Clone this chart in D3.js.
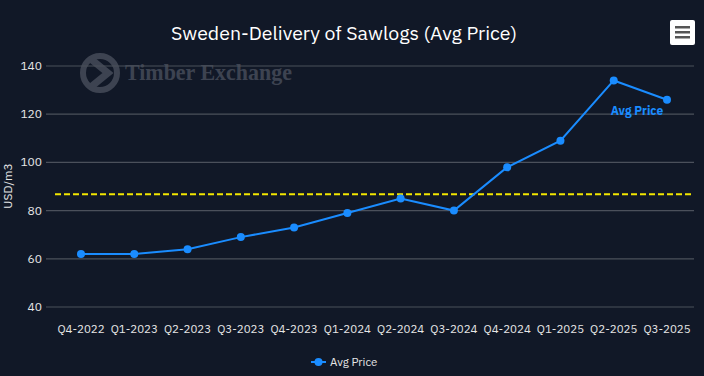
<!DOCTYPE html>
<html><head><meta charset="utf-8">
<script src="https://cdn.jsdelivr.net/npm/d3@7/dist/d3.min.js"></script>
<style>
html,body{margin:0;padding:0;background:#111827;}
svg{display:block;font-family:"IBM Plex Sans","Noto Sans",Roboto,sans-serif;}
</style></head>
<body><svg id="c" width="704" height="376"></svg>
<script>
const categories = ["Q4-2022","Q1-2023","Q2-2023","Q3-2023","Q4-2023","Q1-2024","Q2-2024","Q3-2024","Q4-2024","Q1-2025","Q2-2025","Q3-2025"];
const avgPrice = [62,62,64,69,73,79,85,80,98,109,134,126];
const averageLine = 86.75;
const yTicks = [40,60,80,100,120,140];
const seriesName = "Avg Price";
const title = "Sweden-Delivery of Sawlogs (Avg Price)";
const yTitle = "USD/m3";

const svg = d3.select("#c");
const W = 704, H = 376;
svg.append("rect").attr("width",W).attr("height",H).attr("fill","#111827");

const plotL = 46, plotR = 694;
const x = d3.scalePoint().domain(categories).range([81, 667]);
const y = d3.scaleLinear().domain([40,140]).range([307, 66]);

// watermark
const wm = svg.append("g").attr("opacity",0.24);
wm.append("circle").attr("cx",100).attr("cy",73).attr("r",17).attr("fill","none").attr("stroke","#c8ccd6").attr("stroke-width",6);
wm.append("path").attr("d","M92,60 L108,73 L92,86").attr("fill","none").attr("stroke","#c8ccd6").attr("stroke-width",7).attr("stroke-linejoin","miter");
wm.append("text").attr("x",125).attr("y",80).attr("font-family","'Liberation Serif','Times New Roman',serif").attr("font-weight","bold").attr("font-size",23).attr("fill","#c8ccd6")
  .attr("textLength",167).attr("lengthAdjust","spacingAndGlyphs").text("Timber Exchange");

// grid
svg.append("g").selectAll("line").data(yTicks).join("line")
  .attr("x1",plotL).attr("x2",plotR).attr("y1",d=>y(d)).attr("y2",d=>y(d))
  .attr("stroke","#4b505b").attr("stroke-width",1.2);

// y axis labels
svg.append("g").selectAll("text").data(yTicks).join("text")
  .attr("x",42).attr("y",d=>y(d)+4).attr("text-anchor","end")
  .attr("font-size",12).attr("fill","#e6e6e6").text(d=>d);

svg.append("text").attr("transform","translate(12,186) rotate(-90)").attr("text-anchor","middle")
  .attr("font-size",12).attr("fill","#e6e6e6").text(yTitle);

// x axis labels
svg.append("g").selectAll("text").data(categories).join("text")
  .attr("x",d=>x(d)).attr("y",333).attr("text-anchor","middle")
  .attr("font-size",11.5).attr("fill","#e6e6e6").text(d=>d);

// average dashed line
svg.append("line").attr("x1",55).attr("x2",plotR).attr("y1",y(averageLine)).attr("y2",y(averageLine))
  .attr("stroke","#f2e600").attr("stroke-width",2).attr("stroke-dasharray","6,3");

// series
const line = d3.line().x((d,i)=>x(categories[i])).y(d=>y(d));
svg.append("path").datum(avgPrice).attr("d",line).attr("fill","none").attr("stroke","#1a8cff").attr("stroke-width",2);
svg.append("g").selectAll("circle").data(avgPrice).join("circle")
  .attr("cx",(d,i)=>x(categories[i])).attr("cy",d=>y(d)).attr("r",4).attr("fill","#1a8cff");

// data label at last point
svg.append("text").attr("x",x(categories[categories.length-1])-30).attr("y",y(avgPrice[avgPrice.length-1])+15)
  .attr("text-anchor","middle").attr("font-size",12).attr("font-weight","bold").attr("fill","#1a8cff").text(seriesName);

// title
svg.append("text").attr("x",344).attr("y",40).attr("text-anchor","middle").attr("font-size",19.5).attr("fill","#ffffff").text(title);

// menu button
const mb = svg.append("g");
mb.append("rect").attr("x",670).attr("y",20).attr("width",25).attr("height",25).attr("rx",2).attr("fill","#ffffff");
[27,32,37].forEach(v=>mb.append("rect").attr("x",675).attr("y",v-1).attr("width",15).attr("height",2.5).attr("fill","#555"));

// legend
const lg = svg.append("g");
lg.append("line").attr("x1",311).attr("x2",326).attr("y1",362).attr("y2",362).attr("stroke","#1a8cff").attr("stroke-width",2);
lg.append("circle").attr("cx",318.5).attr("cy",362).attr("r",4).attr("fill","#1a8cff");
lg.append("text").attr("x",330).attr("y",366).attr("font-size",11.5).attr("fill","#e6e6e6").text(seriesName);
</script></body></html>
